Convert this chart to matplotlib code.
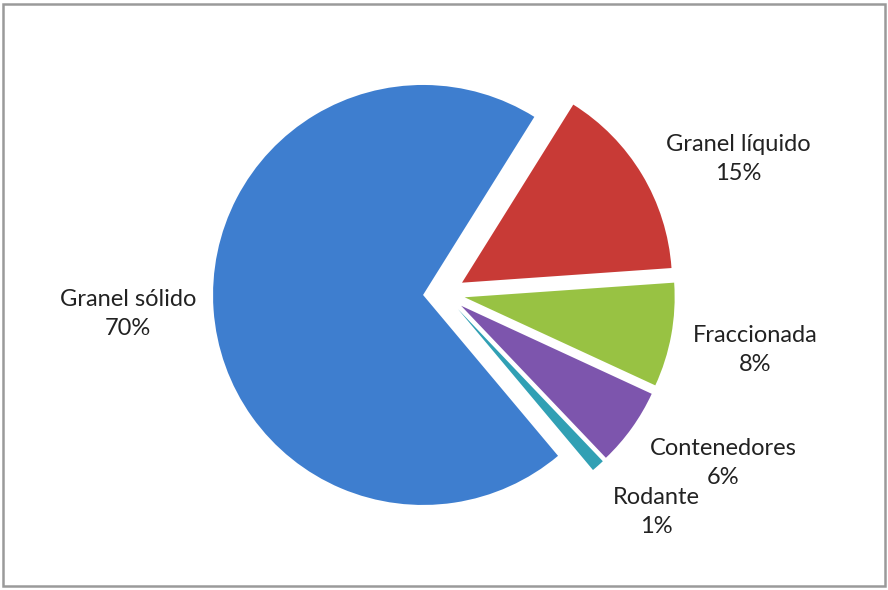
import matplotlib.pyplot as plt
from matplotlib.patches import Rectangle

# slice data, listed counter-clockwise from the small "Rodante" wedge
labels = ['Rodante', 'Contenedores', 'Fraccionada', 'Granel líquido', 'Granel sólido']
shares = [1, 6, 8, 15, 70]
colors = ['#31A0B4', '#7D55AD', '#98C243', '#C83A36', '#3E7ECF']

# label anchor points (pixels, image coords)
label_pos = [(656, 512), (723, 463), (755, 350), (738, 159), (128, 314)]

W, H = 888, 590
fig = plt.figure(figsize=(W / 100, H / 100), dpi=100)
ax = fig.add_axes([0, 0, 1, 1])

cx, cy = 444, H - 293.5
# explode is applied in data units here (radius is in pixels)
ax.pie(shares, colors=colors, startangle=-50, counterclock=True,
       explode=[21] * len(shares), radius=210, center=(cx, cy),
       wedgeprops=dict(linewidth=0), frame=False)
ax.set_xlim(0, W)
ax.set_ylim(0, H)
ax.set_aspect('equal')
ax.axis('off')

for lab, val, (x, y) in zip(labels, shares, label_pos):
    ax.text(x, H - y, f'{lab}\n{val}%', ha='center', va='center',
            fontsize=17, family=['Lato', 'DejaVu Sans'], color='#222222',
            linespacing=1.5)

# outer grey frame
fig.patches.append(Rectangle((3 / W, 4 / H), 882 / W, 582 / H, transform=fig.transFigure,
                             fill=False, edgecolor='#9a9a9a', linewidth=1.8))

fig.savefig('out.png', dpi=100)
